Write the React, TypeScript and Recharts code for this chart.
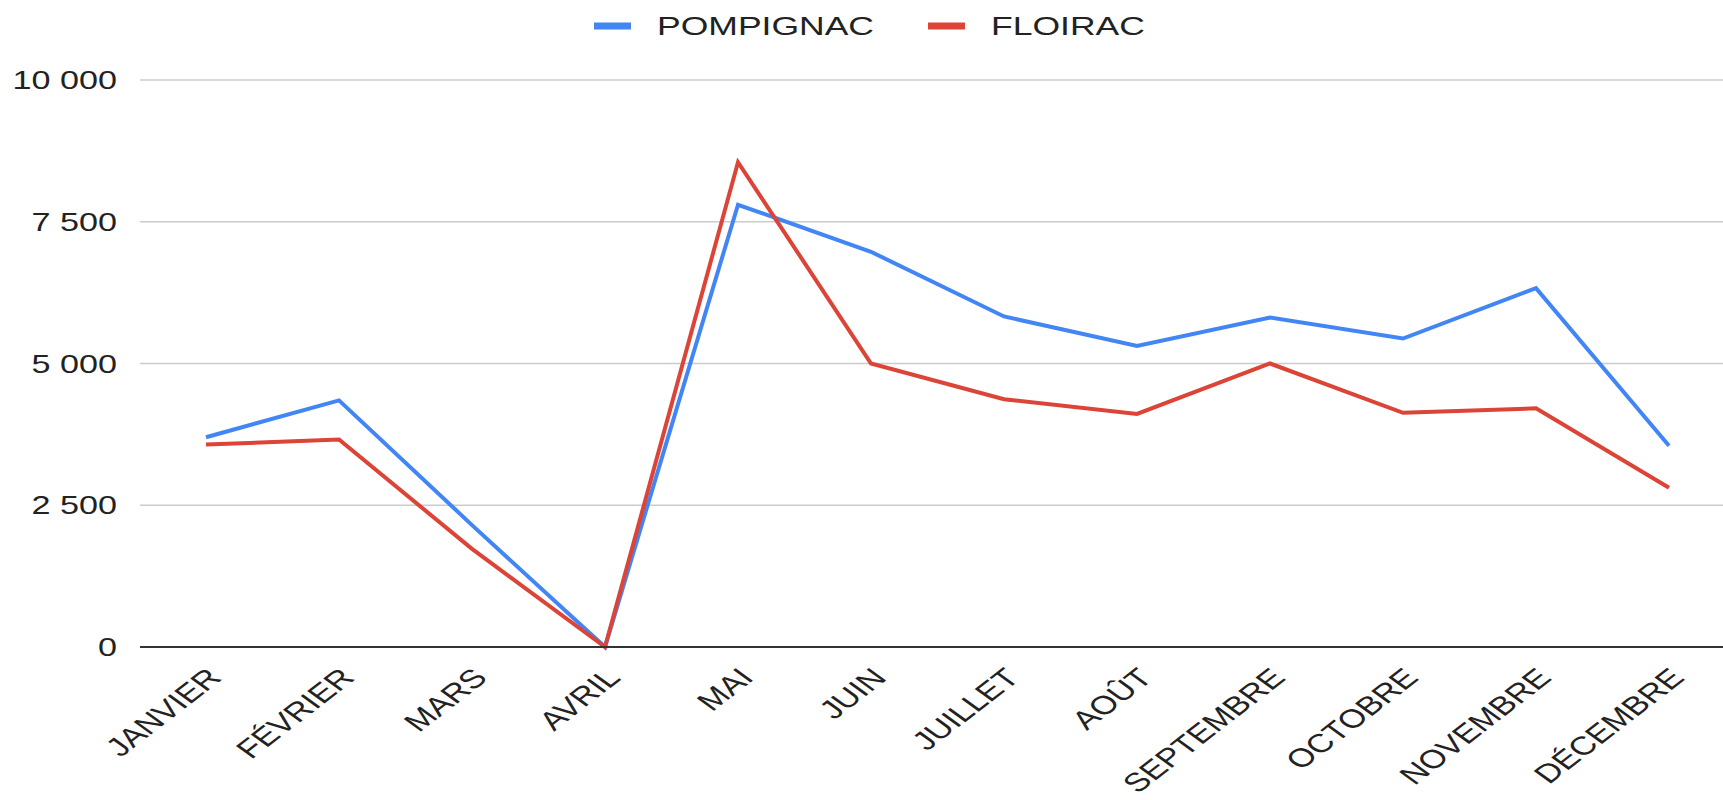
import { LineChart, Line, XAxis, YAxis, CartesianGrid } from 'recharts';

const MONTHS = ['JANVIER', 'FÉVRIER', 'MARS', 'AVRIL', 'MAI', 'JUIN', 'JUILLET', 'AOÛT', 'SEPTEMBRE', 'OCTOBRE', 'NOVEMBRE', 'DÉCEMBRE'];
const POMPIGNAC = [3700, 4350, 2150, 0, 7800, 6970, 5830, 5310, 5810, 5440, 6330, 3550];
const FLOIRAC = [3570, 3660, 1730, 0, 8550, 5000, 4370, 4110, 5000, 4130, 4210, 2810];
const Y_TICKS = [0, 2500, 5000, 7500, 10000];

const SERIES = [
  { key: 'POMPIGNAC', color: '#4285F4', values: POMPIGNAC },
  { key: 'FLOIRAC', color: '#DB4437', values: FLOIRAC },
];

// the source image is stretched sideways, so text gets the same treatment
const STRETCH = 1.34;
const FONT = '"Liberation Sans", Arial, sans-serif';

const data = MONTHS.map((month, i) => {
  const row: Record<string, string | number> = { month };
  SERIES.forEach((s) => {
    row[s.key] = s.values[i];
  });
  return row;
});

const fmt = (v: number) => String(v).replace(/\B(?=(\d{3})+(?!\d))/g, ' ');

function YTick({ x, y, payload }: any) {
  return (
    <g transform={`translate(${x - 23},${y}) scale(${STRETCH},1)`}>
      <text textAnchor="end" dy="0.36em" fontSize={25.5} fontFamily={FONT} fill="#222">
        {fmt(payload.value)}
      </text>
    </g>
  );
}

function XTick({ x, y, payload }: any) {
  return (
    <g transform={`translate(${x + 17},${y + 32}) scale(${STRETCH},1) rotate(-46)`}>
      <text textAnchor="end" fontSize={26} fontFamily={FONT} fill="#222">
        {payload.value}
      </text>
    </g>
  );
}

// legend positions (swatch left, text left)
const LEGEND_X = [
  [594, 657],
  [928, 991],
];

export default function App() {
  return (
    <div style={{ position: 'absolute', left: 0, top: 0, width: 1723, height: 800, overflow: 'hidden', background: '#fff' }}>
      <svg width={1723} height={60} style={{ position: 'absolute', left: 0, top: 0 }}>
        {SERIES.map((s, i) => (
          <g key={s.key}>
            <rect x={LEGEND_X[i][0]} y={22.5} width={37} height={7} fill={s.color} />
            <g transform={`translate(${LEGEND_X[i][1]},35) scale(${STRETCH},1)`}>
              <text fontSize={26.5} fontFamily={FONT} fill="#222">
                {s.key}
              </text>
            </g>
          </g>
        ))}
      </svg>
      <div style={{ position: 'absolute', left: 0, top: 0 }}>
        <LineChart width={1740} height={800} data={data} margin={{ top: 80, right: 5, left: 0, bottom: 0 }}>
          <CartesianGrid vertical={false} stroke="#cccccc" strokeWidth={1.5} />
          <XAxis
            dataKey="month"
            interval={0}
            height={153}
            padding={{ left: 66, right: 66 }}
            axisLine={{ stroke: '#333', strokeWidth: 2 }}
            tickLine={false}
            tickSize={0}
            tickMargin={0}
            tick={<XTick />}
          />
          <YAxis
            width={140}
            domain={[0, 10000]}
            ticks={Y_TICKS}
            axisLine={false}
            tickLine={false}
            tickSize={0}
            tickMargin={0}
            tick={<YTick />}
          />
          {SERIES.map((s) => (
            <Line
              key={s.key}
              type="linear"
              dataKey={s.key}
              stroke={s.color}
              strokeWidth={4}
              dot={false}
              isAnimationActive={false}
            />
          ))}
        </LineChart>
      </div>
    </div>
  );
}
